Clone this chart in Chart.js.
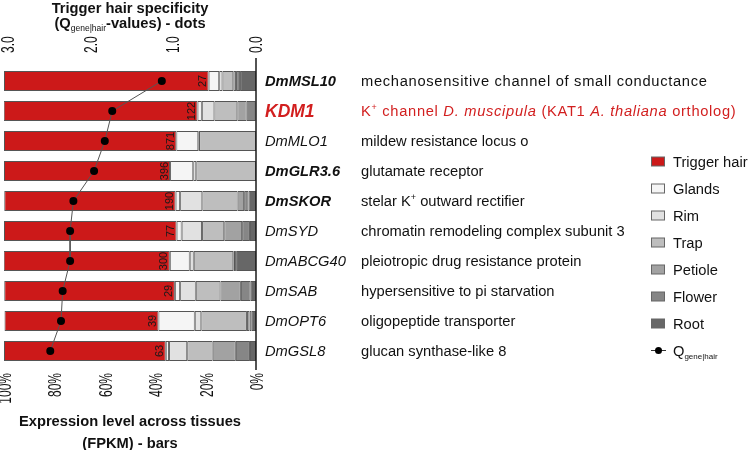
<!DOCTYPE html>
<html>
<head>
<meta charset="utf-8">
<script src="https://cdn.jsdelivr.net/npm/chart.js@4.4.1/dist/chart.umd.min.js"></script>
<style>
  html, body { margin: 0; padding: 0; background: #fff; }
  #wrap { width: 748px; height: 450px; position: relative; }
</style>
</head>
<body>
<div id="wrap"><canvas id="myChart"></canvas></div>
<script>
// genes (rows, top to bottom)
const genes = ['DmMSL10', 'KDM1', 'DmMLO1', 'DmGLR3.6', 'DmSKOR', 'DmSYD', 'DmABCG40', 'DmSAB', 'DmOPT6', 'DmGSL8'];
const boldGenes = ['DmMSL10', 'KDM1', 'DmGLR3.6', 'DmSKOR'];
const redGene = 'KDM1';
// * toggles italic, ^ makes the next char superscript
const descriptions = [
  'mechanosensitive channel of small conductance',
  'K^+ channel *D. muscipula* (KAT1 *A. thaliana* ortholog)',
  'mildew resistance locus o',
  'glutamate receptor',
  'stelar K^+ outward rectifier',
  'chromatin remodeling complex subunit 3',
  'pleiotropic drug resistance protein',
  'hypersensitive to pi starvation',
  'oligopeptide transporter',
  'glucan synthase-like 8'
];

// expression share per tissue (% of FPKM)
const tissues = ['Trigger hair', 'Glands', 'Rim', 'Trap', 'Petiole', 'Flower', 'Root'];
const triggerHair = [81.2, 76.9, 68.4, 65.9, 68.0, 68.5, 65.9, 67.7, 61.1, 64.2];
const glands      = [4.2, 1.7, 8.7, 9.2, 1.8, 2.0, 7.9, 2.1, 14.4, 1.3];
const rim         = [1.3, 5.0, 0.3, 1.2, 8.8, 8.1, 1.6, 6.2, 2.6, 7.2];
const trap        = [4.3, 9.1, 22.6, 23.7, 14.0, 8.8, 15.7, 9.8, 18.1, 10.1];
const petiole     = [1.1, 3.7, 0, 0, 2.6, 7.1, 0.7, 8.1, 1.0, 9.2];
const flower      = [1.6, 3.4, 0, 0, 1.7, 3.1, 0.7, 3.9, 0.9, 5.6];
const root        = [6.3, 0.3, 0, 0, 3.0, 2.4, 7.6, 2.1, 1.7, 2.4];
const triggerFpkm = [27, 122, 871, 396, 190, 77, 300, 29, 39, 63];
const qValues     = [1.14, 1.74, 1.83, 1.96, 2.21, 2.25, 2.25, 2.34, 2.36, 2.49];

const percentTicks = [100, 80, 60, 40, 20, 0];
const qTicks = [3, 2, 1, 0];

const tissueColors = ['#cc1919', '#f5f5f5', '#e1e1e1', '#bebebe', '#a2a2a2', '#868686', '#676767'];
const descSpacing = [0.7, 0.7, 0, 0, 0, 0, 0, 0, 0, 0];
const F = "'Liberation Sans', Arial, Helvetica, sans-serif";
const RED_TEXT = '#d21f1f';

const tissueData = [triggerHair, glands, rim, trap, petiole, flower, root];

// root first so the stack starts at 0% (right side on reversed axis)
const barSets = tissues.map((name, k) => ({
  type: 'bar',
  label: name,
  data: tissueData[k],
  backgroundColor: tissueColors[k],
  borderColor: '#555',
  borderWidth: 1,
  borderSkipped: false,
  xAxisID: 'x',
  yAxisID: 'y',
  stack: 'tissue',
  order: 1
})).reverse();

const qSet = {
  type: 'line',
  label: 'Q',
  data: qValues,
  xAxisID: 'q',
  yAxisID: 'y',
  borderColor: '#555',
  borderWidth: 1,
  pointRadius: 4,
  pointBackgroundColor: '#000',
  pointBorderColor: '#000',
  pointBorderWidth: 0,
  order: 0
};

function richWidth(ctx, runs) {
  let w = 0;
  runs.forEach(r => { ctx.font = r.font; w += ctx.measureText(r.text).width; });
  return w;
}
function drawRich(ctx, runs, x, y, align) {
  let cx = align === 'center' ? x - richWidth(ctx, runs) / 2 : x;
  ctx.textAlign = 'left';
  ctx.textBaseline = 'alphabetic';
  runs.forEach(r => {
    ctx.font = r.font;
    ctx.fillText(r.text, cx, y + (r.dy || 0));
    cx += ctx.measureText(r.text).width;
  });
}
function parseDesc(str, size) {
  const runs = [];
  let italic = false, buf = '';
  const flush = () => { if (buf) runs.push({ text: buf, font: (italic ? 'italic ' : '') + size + 'px ' + F }); buf = ''; };
  for (let i = 0; i < str.length; i++) {
    const c = str[i];
    if (c === '*') { flush(); italic = !italic; }
    else if (c === '^') { flush(); runs.push({ text: str[i + 1], font: '9px ' + F, dy: -6 }); i++; }
    else buf += c;
  }
  flush();
  return runs;
}

const overlay = {
  id: 'overlay',
  afterDatasetsDraw(chart) {
    const ctx = chart.ctx;
    const redIdx = chart.data.datasets.findIndex(d => d.label === 'Trigger hair');
    const meta = chart.getDatasetMeta(redIdx);
    ctx.save();
    ctx.fillStyle = '#1a1a1a';
    ctx.font = '11px ' + F;
    ctx.textAlign = 'center';
    ctx.textBaseline = 'alphabetic';
    meta.data.forEach((el, i) => {
      const right = Math.max(el.x, el.base);
      ctx.save();
      ctx.translate(right - 2.5, el.y);
      ctx.rotate(-Math.PI / 2);
      ctx.fillText(String(triggerFpkm[i]), 0, 0);
      ctx.restore();
    });
    ctx.restore();
  },
  afterDraw(chart) {
    const ctx = chart.ctx;
    const area = chart.chartArea;
    const xs = chart.scales.x, qs = chart.scales.q, ys = chart.scales.y;
    ctx.save();
    ctx.fillStyle = '#111';

    // right axis line
    const x0 = xs.getPixelForValue(0);
    ctx.strokeStyle = '#1a1a1a';
    ctx.lineWidth = 1.5;
    ctx.beginPath();
    ctx.moveTo(x0, area.top - 8);
    ctx.lineTo(x0, area.bottom + 4);
    ctx.stroke();

    // tick labels (rotated)
    ctx.font = '12px ' + F;
    ctx.textBaseline = 'middle';
    percentTicks.forEach(v => {
      ctx.save();
      ctx.translate(xs.getPixelForValue(v) + 2, area.bottom + 7);
      ctx.rotate(-Math.PI / 2);
      ctx.scale(1, 1.5);
      ctx.textAlign = 'right';
      ctx.fillText(v + '%', 0, 0);
      ctx.restore();
    });
    qTicks.forEach(v => {
      ctx.save();
      ctx.translate(qs.getPixelForValue(v) + 1, area.top - 13);
      ctx.rotate(-Math.PI / 2);
      ctx.scale(1, 1.5);
      ctx.textAlign = 'left';
      ctx.fillText(v.toFixed(1), 0, 0);
      ctx.restore();
    });

    // axis titles
    const B = 'bold 14.7px ' + F;
    const cx = (area.left + area.right) / 2;
    drawRich(ctx, [{ text: 'Trigger hair specificity', font: B }], cx, 13, 'center');
    drawRich(ctx, [
      { text: '(Q', font: B },
      { text: 'gene|hair', font: '8.5px ' + F, dy: 3 },
      { text: '-values) - dots', font: B }
    ], cx, 28, 'center');
    drawRich(ctx, [{ text: 'Expression level across tissues', font: B }], cx, 426, 'center');
    drawRich(ctx, [{ text: '(FPKM) - bars', font: B }], cx, 448, 'center');

    // gene names and descriptions
    genes.forEach((g, i) => {
      const y = ys.getPixelForValue(i) + 5;
      const isRed = g === redGene;
      ctx.fillStyle = isRed ? RED_TEXT : '#111';
      ctx.font = 'italic ' + (boldGenes.includes(g) ? 'bold ' : '') + (isRed ? '17.5px ' : '14.7px ') + F;
      ctx.textAlign = 'left';
      ctx.textBaseline = 'alphabetic';
      ctx.fillText(g, area.right + 9, y + (isRed ? 1 : 0));
      ctx.letterSpacing = descSpacing[i] + 'px';
      drawRich(ctx, parseDesc(descriptions[i], 14.7), area.right + 105, y, 'left');
      ctx.letterSpacing = '0px';
    });

    // legend
    const lx = 651, ly = 161.5, step = 27;
    tissues.forEach((t, k) => {
      const cy = ly + k * step;
      ctx.fillStyle = tissueColors[k];
      ctx.fillRect(lx, cy - 4.5, 14, 9);
      ctx.strokeStyle = '#666';
      ctx.lineWidth = 1;
      ctx.strokeRect(lx + 0.5, cy - 4.5, 13, 9);
      ctx.fillStyle = '#111';
      drawRich(ctx, [{ text: t, font: '14.7px ' + F }], lx + 22, cy + 5, 'left');
    });
    const qy = ly + tissues.length * step;
    ctx.strokeStyle = '#333';
    ctx.lineWidth = 1;
    ctx.beginPath();
    ctx.moveTo(lx, qy);
    ctx.lineTo(lx + 15, qy);
    ctx.stroke();
    ctx.fillStyle = '#000';
    ctx.beginPath();
    ctx.arc(lx + 7.5, qy, 3.5, 0, Math.PI * 2);
    ctx.fill();
    ctx.fillStyle = '#111';
    drawRich(ctx, [
      { text: 'Q', font: '14.7px ' + F },
      { text: 'gene|hair', font: '8px ' + F, dy: 3 }
    ], lx + 22, qy + 5, 'left');

    ctx.restore();
  }
};

const ctx = document.getElementById('myChart').getContext('2d');
const chart = new Chart(ctx, {
  type: 'bar',
  data: {
    labels: genes,
    datasets: [qSet].concat(barSets)
  },
  options: {
    indexAxis: 'y',
    responsive: true,
    maintainAspectRatio: false,
    animation: false,
    layout: { padding: { left: 1, right: 492, top: 66, bottom: 84 } },
    datasets: {
      bar: { barPercentage: 0.67, categoryPercentage: 1 }
    },
    scales: {
      x: { display: false, type: 'linear', min: 0, max: 100, reverse: true, stacked: true },
      q: { display: false, type: 'linear', axis: 'x', position: 'top', min: 0, max: 3.05, reverse: true },
      y: { display: false, type: 'category', stacked: true }
    },
    plugins: {
      legend: { display: false },
      tooltip: { enabled: false }
    }
  },
  plugins: [overlay]
});
</script>
</body>
</html>
